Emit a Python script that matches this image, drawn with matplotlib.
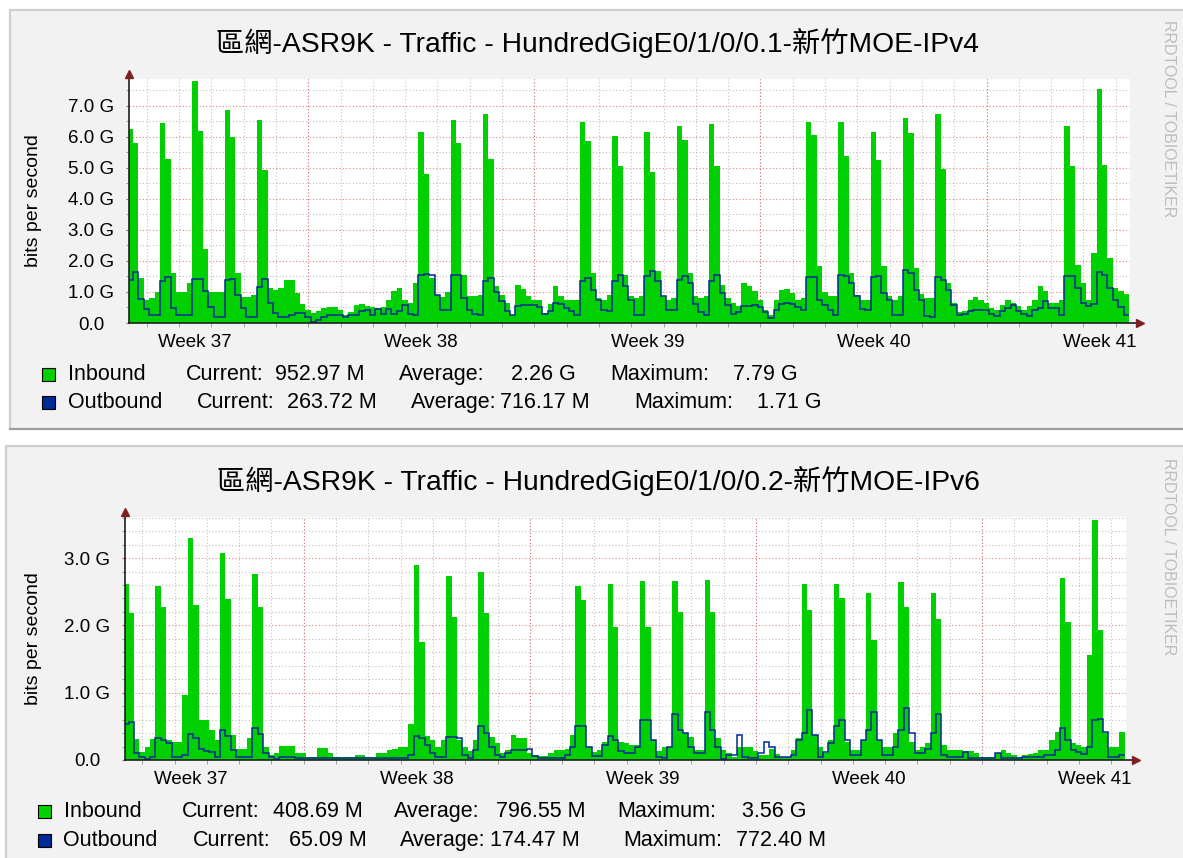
import numpy as np
import matplotlib.pyplot as plt
from matplotlib.patches import Rectangle

plt.rcParams['font.family'] = ['Liberation Sans', 'Noto Sans CJK TC']

W, H = 1183, 858

# time axis in days, 0 = first midnight shown; samples are 4 hours long
t_first = -0.59
step = 1 / 6
week_centers = [1.5, 8.5, 15.5, 22.5, 29.5]
week_labels = ['Week 37', 'Week 38', 'Week 39', 'Week 40', 'Week 41']
week_bounds = [5, 12, 19, 26]
day_lines = list(range(0, 31))

# values in Gbit/s, six samples per day (day -1 .. day 29)
v4_in = [
    6.25, 5.8, 1.45, 0.75, 0.8, 1.0,
    6.45, 5.3, 1.6, 1.0, 1.0, 1.3,
    7.79, 6.2, 2.4, 1.0, 1.0, 1.0,
    6.86, 6.0, 1.6, 0.85, 0.85, 0.9,
    6.55, 4.95, 1.13, 1.07, 1.13, 1.38,
    1.38, 0.97, 0.6, 0.43, 0.32, 0.38,
    0.48, 0.52, 0.52, 0.43, 0.27, 0.34,
    0.58, 0.61, 0.54, 0.5, 0.48, 0.52,
    0.75, 1.02, 1.13, 0.75, 0.65, 1.3,
    6.16, 4.8, 1.45, 0.9, 0.85, 1.0,
    6.55, 5.8, 1.56, 0.86, 0.86, 0.9,
    6.74, 5.3, 1.18, 0.9, 0.65, 0.27,
    1.24, 1.1, 0.86, 0.75, 0.75, 0.32,
    0.6, 1.18, 0.86, 0.75, 0.75, 0.75,
    6.47, 5.86, 1.6, 0.8, 0.75, 0.9,
    6.04, 5.07, 1.54, 0.86, 0.8, 0.86,
    6.17, 4.86, 1.67, 0.86, 0.75, 0.8,
    6.34, 5.9, 1.6, 0.86, 0.8, 0.86,
    6.42, 5.05, 1.24, 0.8, 0.65, 0.54,
    1.29, 1.18, 1.02, 0.75, 0.43, 0.27,
    0.75, 1.07, 1.1, 0.97, 0.75, 0.8,
    6.47, 6.07, 1.83, 0.99, 0.86, 0.86,
    6.47, 5.38, 1.6, 0.91, 0.75, 0.75,
    6.15, 5.25, 1.83, 0.86, 0.75, 0.86,
    6.6, 6.13, 1.77, 0.95, 0.8, 0.8,
    6.74, 4.98, 1.29, 0.65, 0.34, 0.38,
    0.75, 0.84, 0.75, 0.65, 0.48, 0.43,
    0.59, 0.75, 0.65, 0.54, 0.43, 0.54,
    0.75, 1.18, 1.02, 0.65, 0.65, 0.75,
    6.34, 5.05, 1.88, 1.29, 0.75, 2.26,
    7.55, 5.1, 2.1, 1.13, 1.02, 0.95,
]
v4_out = [
    1.4, 1.66, 0.76, 0.45, 0.26, 0.26,
    1.37, 1.49, 0.47, 0.26, 0.26, 0.26,
    1.41, 1.41, 1.04, 0.53, 0.2, 0.2,
    1.39, 1.41, 0.9, 0.47, 0.18, 0.18,
    1.17, 1.42, 0.63, 0.31, 0.2, 0.2,
    0.25, 0.31, 0.31, 0.2, 0.04, 0.1,
    0.2, 0.26, 0.26, 0.26, 0.2, 0.26,
    0.26, 0.4, 0.42, 0.26, 0.44, 0.3,
    0.45, 0.3, 0.4, 0.59, 0.3, 0.25,
    1.55, 1.58, 1.55, 0.9, 0.43, 0.43,
    1.56, 1.56, 0.8, 0.41, 0.3, 0.27,
    1.37, 1.45, 1.0, 0.7, 0.4, 0.27,
    0.56, 0.59, 0.59, 0.59, 0.5, 0.3,
    0.38, 0.65, 0.6, 0.48, 0.4, 0.27,
    1.34, 1.45, 1.08, 0.75, 0.41, 0.38,
    1.35, 1.56, 1.18, 0.75, 0.27, 0.27,
    1.5, 1.67, 1.34, 0.86, 0.41, 0.41,
    1.4, 1.5, 1.3, 0.6, 0.35, 0.27,
    1.35, 1.56, 0.97, 0.59, 0.3, 0.35,
    0.54, 0.54, 0.58, 0.5, 0.35, 0.16,
    0.43, 0.6, 0.65, 0.6, 0.5, 0.41,
    1.48, 1.48, 0.75, 0.59, 0.41, 0.27,
    1.56, 1.5, 1.29, 0.86, 0.45, 0.43,
    1.48, 1.53, 0.97, 0.75, 0.27, 0.27,
    1.71, 1.61, 1.08, 0.75, 0.22, 0.2,
    1.48, 1.4, 1.08, 0.59, 0.27, 0.3,
    0.38, 0.43, 0.43, 0.43, 0.3, 0.22,
    0.38, 0.48, 0.59, 0.38, 0.3, 0.22,
    0.41, 0.48, 0.7, 0.48, 0.48, 0.27,
    1.5, 1.5, 1.13, 0.65, 0.55, 0.6,
    1.63, 1.55, 1.13, 0.75, 0.5, 0.26,
]
v6_in = [
    2.61, 2.18, 0.31, 0.12, 0.2, 0.31,
    2.59, 2.27, 0.3, 0.27, 0.27, 0.96,
    3.3, 2.3, 0.6, 0.6, 0.45, 0.29,
    3.07, 2.39, 0.37, 0.16, 0.16, 0.32,
    2.77, 2.27, 0.2, 0.07, 0.1, 0.21,
    0.21, 0.21, 0.1, 0.1, 0.05, 0.05,
    0.18, 0.18, 0.1, 0.05, 0.05, 0.05,
    0.05, 0.07, 0.07, 0.05, 0.05, 0.1,
    0.1, 0.15, 0.17, 0.2, 0.2, 0.54,
    2.89, 1.76, 0.35, 0.3, 0.2, 0.3,
    2.73, 2.12, 0.3, 0.2, 0.14, 0.3,
    2.8, 2.18, 0.34, 0.25, 0.1, 0.15,
    0.37, 0.33, 0.32, 0.1, 0.07, 0.06,
    0.06, 0.1, 0.15, 0.15, 0.17, 0.37,
    2.58, 2.38, 0.2, 0.12, 0.15, 0.27,
    2.62, 1.97, 0.27, 0.25, 0.22, 0.22,
    2.66, 1.97, 0.3, 0.14, 0.2, 0.2,
    2.66, 2.2, 0.4, 0.34, 0.15, 0.15,
    2.68, 2.2, 0.32, 0.15, 0.1, 0.05,
    0.2, 0.2, 0.2, 0.14, 0.07, 0.07,
    0.17, 0.09, 0.05, 0.05, 0.15, 0.32,
    2.62, 2.23, 0.37, 0.2, 0.1, 0.3,
    2.62, 2.4, 0.27, 0.15, 0.15, 0.3,
    2.48, 1.78, 0.3, 0.2, 0.2, 0.4,
    2.65, 2.28, 0.27, 0.15, 0.2, 0.25,
    2.48, 2.09, 0.22, 0.15, 0.15, 0.15,
    0.14, 0.14, 0.1, 0.05, 0.05, 0.05,
    0.1, 0.15, 0.1, 0.07, 0.05, 0.07,
    0.09, 0.1, 0.15, 0.15, 0.3, 0.42,
    2.71, 2.05, 0.25, 0.22, 0.2, 1.56,
    3.56, 1.93, 0.4, 0.2, 0.2, 0.41,
]
v6_out = [
    0.54, 0.57, 0.1, 0.05, 0.02, 0.05,
    0.32, 0.3, 0.25, 0.05, 0.05, 0.07,
    0.39, 0.32, 0.17, 0.14, 0.12, 0.05,
    0.45, 0.36, 0.15, 0.05, 0.04, 0.04,
    0.47, 0.38, 0.1, 0.04, 0.01, 0.05,
    0.04, 0.04, 0.03, 0.03, 0.03, 0.03,
    0.03, 0.03, 0.03, 0.03, 0.03, 0.03,
    0.03, 0.03, 0.03, 0.03, 0.03, 0.03,
    0.03, 0.03, 0.03, 0.03, 0.03, 0.07,
    0.35, 0.33, 0.22, 0.1, 0.05, 0.05,
    0.34, 0.34, 0.32, 0.07, 0.03, 0.15,
    0.5, 0.4, 0.2, 0.07, 0.05, 0.1,
    0.15, 0.15, 0.15, 0.17, 0.06, 0.03,
    0.03, 0.03, 0.03, 0.03, 0.07, 0.2,
    0.5, 0.5, 0.2, 0.06, 0.06, 0.22,
    0.36, 0.29, 0.14, 0.11, 0.11, 0.2,
    0.6, 0.6, 0.3, 0.05, 0.03, 0.2,
    0.69, 0.45, 0.4, 0.2, 0.1, 0.1,
    0.72, 0.45, 0.2, 0.02, 0.07, 0.07,
    0.37, 0.05, 0.03, 0.03, 0.1, 0.27,
    0.2, 0.05, 0.05, 0.05, 0.07, 0.3,
    0.4, 0.74, 0.37, 0.05, 0.12, 0.25,
    0.5, 0.6, 0.3, 0.07, 0.07, 0.3,
    0.45, 0.72, 0.3, 0.07, 0.07, 0.2,
    0.45, 0.772, 0.4, 0.1, 0.1, 0.17,
    0.4, 0.69, 0.07, 0.05, 0.05, 0.05,
    0.12, 0.03, 0.03, 0.03, 0.03, 0.03,
    0.1, 0.03, 0.03, 0.03, 0.03, 0.05,
    0.05, 0.05, 0.05, 0.07, 0.07, 0.15,
    0.47, 0.3, 0.15, 0.12, 0.09, 0.2,
    0.59, 0.61, 0.42, 0.05, 0.05, 0.07,
]

titles = ['區網-ASR9K - Traffic - HundredGigE0/1/0/0.1-新竹MOE-IPv4',
          '區網-ASR9K - Traffic - HundredGigE0/1/0/0.2-新竹MOE-IPv6']
series_names = ['Inbound', 'Outbound']
v4_stats = [['952.97 M', '2.26 G', '7.79 G'], ['263.72 M', '716.17 M', '1.71 G']]
v6_stats = [['408.69 M', '796.55 M', '3.56 G'], ['65.09 M', '174.47 M', '772.40 M']]

GREEN = '#00CF00'
BLUE = '#002A97'
BACK = '#F2F2F2'


def fx(x):
    return x / W


def fy(y):
    return 1 - y / H


fig = plt.figure(figsize=(W / 100, H / 100), dpi=100, facecolor='#FFFFFF')

# rrdtool canvas frames (light top/left edge, dark bottom/right edge)
for x0, y0, y1 in [(10, 10, 429), (6, 446, 870)]:
    fig.patches.append(Rectangle((fx(x0), fy(y1)), fx(1200 - x0), fy(y0) - fy(y1),
                                 transform=fig.transFigure, facecolor=BACK,
                                 edgecolor='none', zorder=-10))
    fig.lines.append(plt.Line2D([fx(x0), fx(x0), 1], [fy(y1), fy(y0), fy(y0)],
                                transform=fig.transFigure, color='#CFCFCF', lw=1.6,
                                zorder=-9))
    fig.lines.append(plt.Line2D([fx(x0), 1], [fy(y1), fy(y1)],
                                transform=fig.transFigure, color='#9E9E9E', lw=1.6,
                                zorder=-9))


def draw_panel(left, base, height, ymax, yminor, vin, vout, title, ytop_title):
    ax = fig.add_axes([fx(left), fy(base), fx(1001), height / H])
    ax.set_facecolor('white')
    edges = t_first + step * np.arange(len(vin) + 1)
    ax.stairs(vin, edges, fill=True, color=GREEN, zorder=2)
    ax.stairs(vout, edges, baseline=None, color=BLUE, lw=1.1, zorder=3)
    ax.set_xlim(-0.548, 30.44)
    ax.set_ylim(0, ymax)

    ax.set_yticks(np.arange(0, int(ymax) + 1, 1.0))
    ax.set_yticklabels(['0.0'] + ['%.1f G' % v for v in np.arange(1, int(ymax) + 1)])
    ax.set_yticks(np.arange(0, ymax, yminor), minor=True)
    ax.set_xticks(week_centers)
    ax.set_xticklabels(week_labels)
    ax.set_xticks(day_lines, minor=True)

    ax.grid(True, which='minor', color='#8F8F8F', alpha=0.55, lw=0.8,
            linestyle=(0, (1, 2)), zorder=0)
    ax.grid(True, which='major', axis='y', color='#DE4F4F', alpha=0.7, lw=0.8,
            linestyle=(0, (1, 2)), zorder=0)
    for wb in week_bounds:
        ax.axvline(wb, color='#DE4F4F', alpha=0.7, lw=0.8, linestyle=(0, (1, 2)), zorder=1)
    ax.set_axisbelow(True)

    ax.tick_params(axis='x', which='major', length=0, pad=8, labelsize=13.5)
    ax.tick_params(axis='x', which='minor', length=3, color='#8F8F8F', direction='out')
    ax.tick_params(axis='y', which='major', length=2.5, color='#DE4F4F', pad=24.5,
                   labelsize=13.5)
    ax.tick_params(axis='y', which='minor', length=2.5, color='#8F8F8F')
    for tick in ax.yaxis.get_major_ticks():
        tick.label1.set_horizontalalignment('center')

    for s in ax.spines.values():
        s.set_visible(False)
    ax.plot([0, 1.006], [0, 0], transform=ax.transAxes, color='#1F1F1F', lw=1.2,
            clip_on=False, zorder=5)
    ax.plot([0, 0], [0, 1.0], transform=ax.transAxes, color='#1F1F1F', lw=1.2,
            clip_on=False, zorder=5)
    ax.plot([1.010], [0], marker='>', ms=6, color='#801F1F', transform=ax.transAxes,
            clip_on=False, zorder=6)
    ax.plot([0], [1.02], marker='^', ms=6, color='#801F1F', transform=ax.transAxes,
            clip_on=False, zorder=6)

    fig.text(fx(598), fy(ytop_title), title, ha='center', va='baseline', fontsize=20.3)
    fig.text(fx(33), fy(base - height * 0.5), 'bits per second', rotation=90,
             ha='center', va='center', fontsize=14)
    fig.text(fx(1168), fy(ytop_title - 32), 'RRDTOOL / TOBIOETIKER', rotation=270,
             ha='center', va='top', fontsize=11.5, color='#BDBDBD')
    return ax


ax1 = draw_panel(129, 323, 244, 7.87, 0.5, v4_in, v4_out, titles[0], 52)
ax2 = draw_panel(124.5, 760, 243, 3.61, 0.2, v6_in, v6_out, titles[1], 490)

# legends
legend_rows = [
    (42, [380, 408], v4_stats,
     [[68, 186, 275, 399, 511, 610, 733], [68, 197, 287, 411, 500, 634, 757]]),
    (38, [817, 846], v6_stats,
     [[64, 182, 273, 394, 496, 617, 742], [63, 193, 289, 400, 490, 623, 736]]),
]
for box_x, ys, stats, xs in legend_rows:
    for i, (name, color) in enumerate(zip(series_names, [GREEN, BLUE])):
        y = ys[i]
        fig.patches.append(Rectangle((fx(box_x), fy(y + 1)), fx(13), 13 / H,
                                     transform=fig.transFigure, facecolor=color,
                                     edgecolor='black', lw=0.8, zorder=3))
        words = [name, 'Current:', stats[i][0], 'Average:', stats[i][1],
                 'Maximum:', stats[i][2]]
        for x, w in zip(xs[i], words):
            fig.text(fx(x), fy(y), w, ha='left', va='baseline', fontsize=15.5)

fig.savefig('out.png', dpi=100, facecolor=fig.get_facecolor())
